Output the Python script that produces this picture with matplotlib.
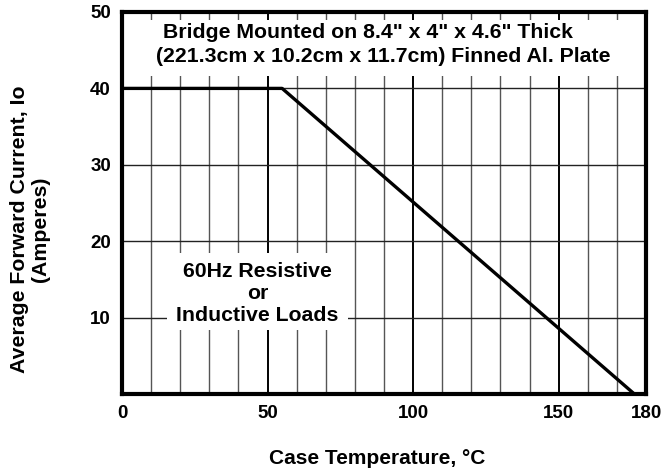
import matplotlib.pyplot as plt
from matplotlib.patches import Rectangle

plt.rcParams['font.family'] = ['Liberation Sans', 'DejaVu Sans']
plt.rcParams['font.weight'] = 'bold'

# derating curve
temp = [0, 55, 176]
current = [40, 40, 0]

xticks = [0, 50, 100, 150, 180]
yticks = [10, 20, 30, 40, 50]
xgrid = [10, 20, 30, 40, 60, 70, 80, 90, 110, 120, 130, 140, 160, 170]
xgrid_major = [50, 100, 150]
ygrid = [10, 20, 30, 40]

fig = plt.figure(figsize=(6.64, 4.73), dpi=100)
ax = fig.add_axes([122/664, 1-394/473, (646-122)/664, (394-12)/473])
ax.set_xlim(0, 180)
ax.set_ylim(0, 50)

for x in xgrid:
    ax.axvline(x, color='#555555', lw=1.0, zorder=1)
for x in xgrid_major:
    ax.axvline(x, color='black', lw=1.4, zorder=1)
for y in ygrid:
    ax.axhline(y, color='#222222', lw=1.0, zorder=1)

# white boxes behind the notes
ax.add_patch(Rectangle((0, 41.6), 180, 49.0-41.6, facecolor='white',
                       edgecolor='none', zorder=2))
ax.add_patch(Rectangle((15.5, 8.4), 77.6-15.5, 18.5-8.4, facecolor='white',
                       edgecolor='none', zorder=2))

ax.plot(temp, current, color='black', lw=2.4, zorder=3, solid_capstyle='butt')

ax.text((368-122)/2.911, (394-33)/7.64, 'Bridge Mounted on 8.4" x 4" x 4.6" Thick',
        ha='center', va='center', fontsize=15.3, fontweight='bold', zorder=4)
ax.text((383-122)/2.911, (394-57)/7.64, '(221.3cm x 10.2cm x 11.7cm) Finned Al. Plate',
        ha='center', va='center', fontsize=15.3, fontweight='bold', zorder=4)
ax.text((257.5-122)/2.911, 13.1, '60Hz Resistive\nor\nInductive Loads',
        ha='center', va='center', fontsize=15.3, fontweight='bold',
        linespacing=1.2, zorder=4)

ax.set_xticks(xticks)
ax.set_yticks(yticks)
ax.set_xticklabels([str(v) for v in xticks], fontsize=13.5, fontweight='bold')
ax.set_yticklabels([str(v) for v in yticks], fontsize=13.5, fontweight='bold')
ax.tick_params(length=0, pad=8)
for s in ax.spines.values():
    s.set_linewidth(3)
    s.set_zorder(5)

fig.text(30/664, 1-229/473, 'Average Forward Current, Io\n(Amperes)',
         rotation=90, ha='center', va='center', fontsize=15.3,
         fontweight='bold', linespacing=1.1)
fig.text(377/664, 1-458/473, 'Case Temperature, \u00b0C',
         ha='center', va='center', fontsize=15, fontweight='bold')

fig.savefig('out.png', dpi=100)
